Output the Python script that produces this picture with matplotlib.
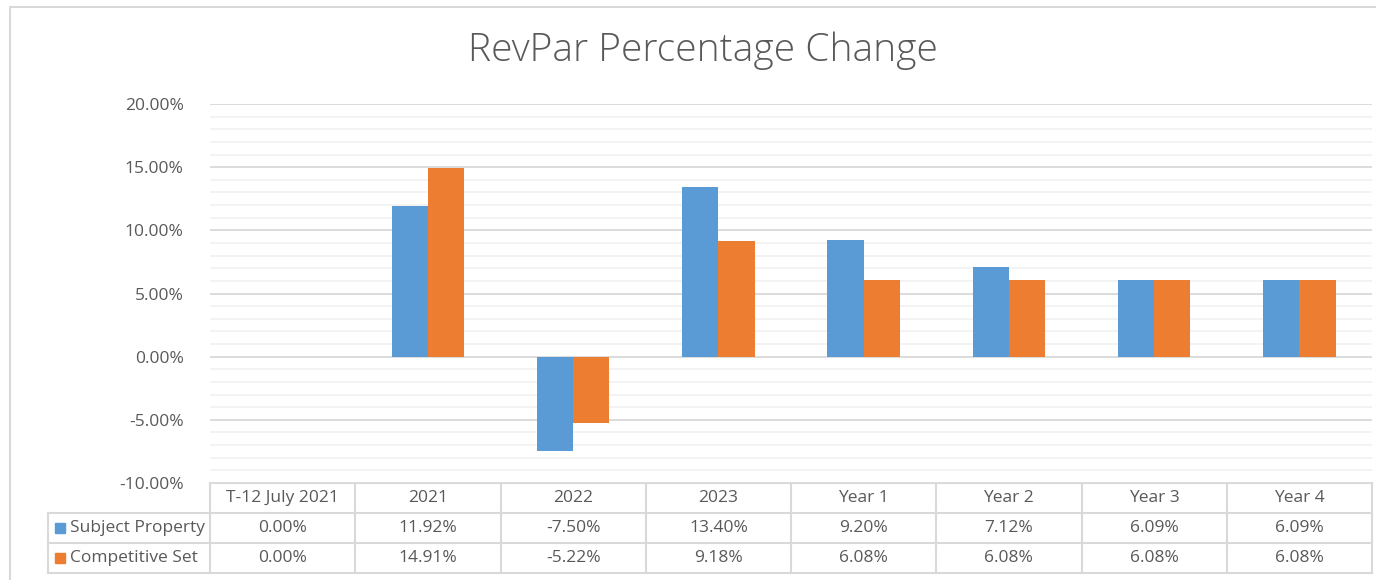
import matplotlib.pyplot as plt
import numpy as np
from matplotlib.ticker import MultipleLocator, FuncFormatter

# Datos del gráfico
categorias = ["T-12 July 2021", "2021", "2022", "2023", "Year 1", "Year 2", "Year 3", "Year 4"]
subject_property = [0.00, 11.92, -7.50, 13.40, 9.20, 7.12, 6.09, 6.09]
competitive_set = [0.00, 14.91, -5.22, 9.18, 6.08, 6.08, 6.08, 6.08]
series_nombres = ["Subject Property", "Competitive Set"]
colores = ["#5B9BD5", "#ED7D31"]

W, H = 1376, 580
plt.rcParams['font.family'] = ['Open Sans', 'DejaVu Sans']
fig = plt.figure(figsize=(W / 100, H / 100), dpi=100)

# Capa de fondo en coordenadas de pixel (borde y tabla)
fondo = fig.add_axes([0, 0, 1, 1])
fondo.set_xlim(0, W)
fondo.set_ylim(H, 0)
fondo.axis("off")
fondo.plot([10, 10, W + 5], [H + 5, 7, 7], color="#d9d9d9", lw=1.5)

# Área del gráfico
x0, x1, ytop, ybot = 210, 1372, 104, 483
ax = fig.add_axes([x0 / W, 1 - ybot / H, (x1 - x0) / W, (ybot - ytop) / H])
x = np.arange(len(categorias))
w = 0.25
ax.bar(x - w / 2, subject_property, w, color=colores[0], zorder=3)
ax.bar(x + w / 2, competitive_set, w, color=colores[1], zorder=3)
ax.set_xlim(-0.5, len(categorias) - 0.5)
ax.set_ylim(-10, 20)
ax.yaxis.set_major_locator(MultipleLocator(5))
ax.yaxis.set_minor_locator(MultipleLocator(1))
ax.yaxis.set_major_formatter(FuncFormatter(lambda v, p: f"{v:.2f}%"))
ax.grid(which="major", axis="y", color="#d9d9d9", lw=1.3, zorder=0)
ax.grid(which="minor", axis="y", color="#f2f2f2", lw=1.3, zorder=0)
ax.set_xticks([])
ax.tick_params(axis="y", which="both", length=0, pad=19, labelsize=12.5, labelcolor="#595959")
for s in ax.spines.values():
    s.set_visible(False)

fig.text(703 / W, 1 - 51 / H, "RevPar Percentage Change", ha="center", va="center",
         fontsize=28, color="#595959", fontweight="light")

# Tabla de datos
col_w = (x1 - x0) / len(categorias)
filas = [483, 513, 543, 573]
lc = "#d9d9d9"
fondo.plot([x0, x1], [filas[0], filas[0]], color=lc, lw=1.5)
for yy in filas[1:]:
    fondo.plot([48, x1], [yy, yy], color=lc, lw=1.5)
for i in range(len(categorias) + 1):
    xx = x0 + i * col_w
    fondo.plot([xx, xx], [filas[0], filas[3]], color=lc, lw=1.5)
fondo.plot([48, 48], [filas[1], filas[3]], color=lc, lw=1.5)

tcol = "#595959"
fs = 12.5
for i, cat in enumerate(categorias):
    cx = x0 + (i + 0.5) * col_w
    fondo.text(cx, 498, cat, ha="center", va="center", fontsize=fs, color=tcol)
    fondo.text(cx, 528, f"{subject_property[i]:.2f}%", ha="center", va="center", fontsize=fs, color=tcol)
    fondo.text(cx, 558, f"{competitive_set[i]:.2f}%", ha="center", va="center", fontsize=fs, color=tcol)

for j, (nombre, c) in enumerate(zip(series_nombres, colores)):
    yc = 528 + 30 * j
    fondo.add_patch(plt.Rectangle((55, yc - 5), 10, 10, color=c))
    fondo.text(70, yc, nombre, ha="left", va="center", fontsize=fs, color=tcol)

fig.savefig("out.png", dpi=100)
